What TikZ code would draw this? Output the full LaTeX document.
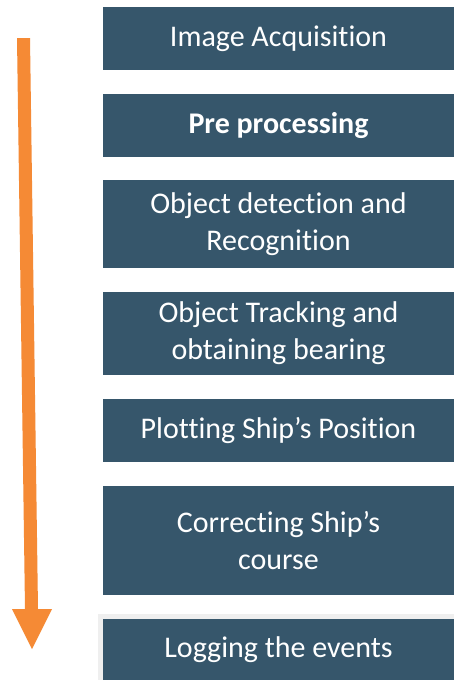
\documentclass[tikz,border=0pt]{standalone}
\usepackage{fontspec}
\setmainfont[Ligatures=NoCommon]{Carlito}
\definecolor{stepfill}{HTML}{36566B}
\definecolor{flowarrow}{HTML}{F58A35}
\definecolor{framegray}{HTML}{EFEFEF}
\begin{document}
\begin{tikzpicture}[x=1pt,y=-1pt,
  stepbox/.style={fill=stepfill, text=white, minimum width=351pt, inner sep=0pt,
    align=center, font=\fontsize{30}{37}\selectfont}]
  \useasboundingbox[fill=white] (0,0) rectangle (454,680);
  % light frame behind the final step
  \fill[framegray] (98,614) rectangle (454,680);
  % process steps
  \node[stepbox, minimum height=63pt] (s1) at (278.5,38.5) {Image Acquisition};
  \node[stepbox, minimum height=63pt, font=\fontsize{30}{37}\selectfont\bfseries] (s2) at (278.5,125.5) {Pre processing};
  \node[stepbox, minimum height=88pt] (s3) at (278.5,224) {Object detection and\\Recognition};
  \node[stepbox, minimum height=83pt] (s4) at (278.5,333.5) {Object Tracking and\\obtaining bearing};
  \node[stepbox, minimum height=63pt] (s5) at (278.5,430.5) {Plotting Ship’s Position};
  \node[stepbox, minimum height=109pt] (s6) at (278.5,540.5) {Correcting Ship’s\\course};
  \node[stepbox, minimum height=61pt] (s7) at (278.5,649.5) {Logging the events};
  % downward flow arrow
  \fill[flowarrow] (17,38) -- (30,38) -- (38,609) -- (52,609) -- (32,649)
    -- (12,609) -- (25,609) -- cycle;
\end{tikzpicture}
\end{document}
